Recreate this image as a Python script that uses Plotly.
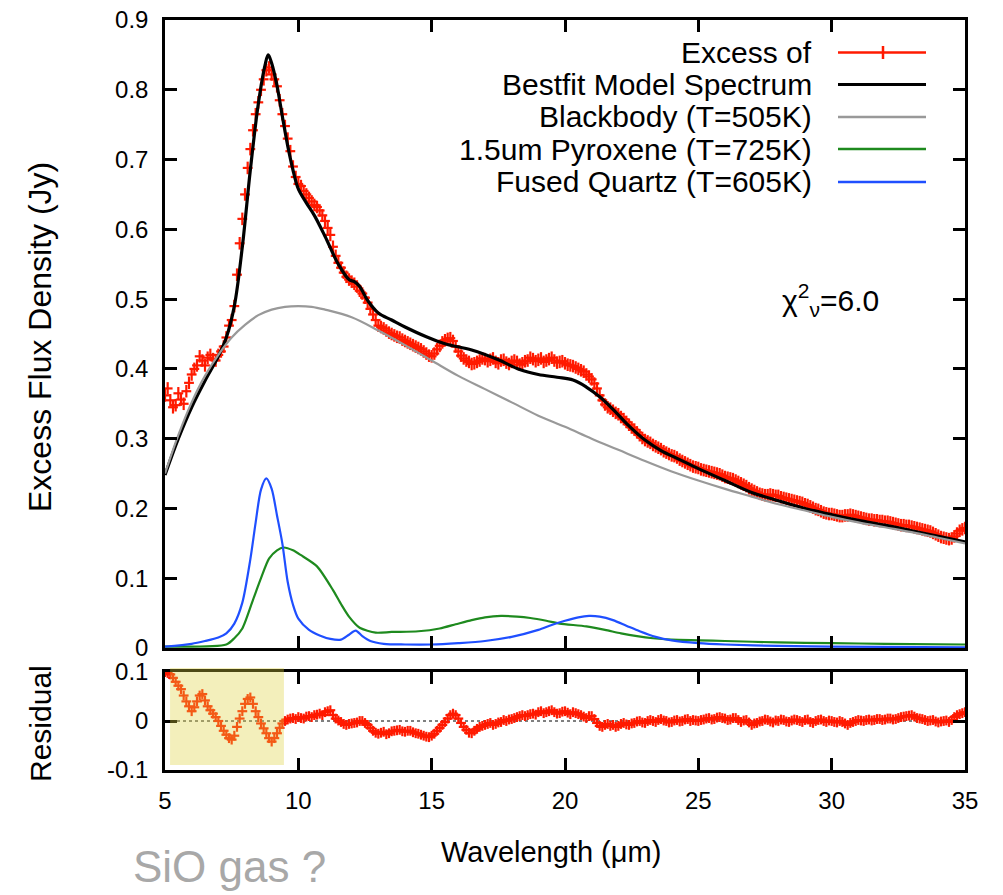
import plotly.graph_objects as go

# ---------------- data ----------------
lam_data = [
    5.0, 5.1, 5.2, 5.3, 5.4, 5.5, 5.6, 5.7, 5.8, 5.9,
    6.0, 6.1, 6.2, 6.3, 6.4, 6.5, 6.6, 6.7, 6.8, 6.9,
    7.0, 7.1, 7.2, 7.3, 7.4, 7.5, 7.6, 7.7, 7.8, 7.9,
    8.0, 8.1, 8.2, 8.3, 8.4, 8.5, 8.6, 8.7, 8.8, 8.9,
    9.0, 9.1, 9.2, 9.3, 9.4, 9.5, 9.6, 9.7, 9.8, 9.9,
    10.0, 10.1, 10.2, 10.3, 10.4, 10.5, 10.6, 10.7, 10.8, 10.9,
    11.0, 11.1, 11.2, 11.3, 11.4, 11.5, 11.6, 11.7, 11.8, 11.9,
    12.0, 12.1, 12.2, 12.3, 12.4, 12.5, 12.6, 12.7, 12.8, 12.9,
    13.0, 13.1, 13.2, 13.3, 13.4, 13.5, 13.6, 13.7, 13.8, 13.9,
    14.0, 14.1, 14.2, 14.3, 14.4, 14.5, 14.6, 14.7, 14.8, 14.9,
    15.0, 15.1, 15.2, 15.3, 15.4, 15.5, 15.6, 15.7, 15.8, 15.9,
    16.0, 16.1, 16.2, 16.3, 16.4, 16.5, 16.6, 16.7, 16.8, 16.9,
    17.0, 17.1, 17.2, 17.3, 17.4, 17.5, 17.6, 17.7, 17.8, 17.9,
    18.0, 18.1, 18.2, 18.3, 18.4, 18.5, 18.6, 18.7, 18.8, 18.9,
    19.0, 19.1, 19.2, 19.3, 19.4, 19.5, 19.6, 19.7, 19.8, 19.9,
    20.0, 20.1, 20.2, 20.3, 20.4, 20.5, 20.6, 20.7, 20.8, 20.9,
    21.0, 21.1, 21.2, 21.3, 21.4, 21.5, 21.6, 21.7, 21.8, 21.9,
    22.0, 22.1, 22.2, 22.3, 22.4, 22.5, 22.6, 22.7, 22.8, 22.9,
    23.0, 23.1, 23.2, 23.3, 23.4, 23.5, 23.6, 23.7, 23.8, 23.9,
    24.0, 24.1, 24.2, 24.3, 24.4, 24.5, 24.6, 24.7, 24.8, 24.9,
    25.0, 25.1, 25.2, 25.3, 25.4, 25.5, 25.6, 25.7, 25.8, 25.9,
    26.0, 26.1, 26.2, 26.3, 26.4, 26.5, 26.6, 26.7, 26.8, 26.9,
    27.0, 27.1, 27.2, 27.3, 27.4, 27.5, 27.6, 27.7, 27.8, 27.9,
    28.0, 28.1, 28.2, 28.3, 28.4, 28.5, 28.6, 28.7, 28.8, 28.9,
    29.0, 29.1, 29.2, 29.3, 29.4, 29.5, 29.6, 29.7, 29.8, 29.9,
    30.0, 30.1, 30.2, 30.3, 30.4, 30.5, 30.6, 30.7, 30.8, 30.9,
    31.0, 31.1, 31.2, 31.3, 31.4, 31.5, 31.6, 31.7, 31.8, 31.9,
    32.0, 32.1, 32.2, 32.3, 32.4, 32.5, 32.6, 32.7, 32.8, 32.9,
    33.0, 33.1, 33.2, 33.3, 33.4, 33.5, 33.6, 33.7, 33.8, 33.9,
    34.0, 34.1, 34.2, 34.3, 34.4, 34.5, 34.6, 34.7, 34.8, 34.9,
    35.0]

flux_data = [
    0.362, 0.372, 0.355, 0.345, 0.348, 0.365, 0.356, 0.350, 0.368, 0.380,
    0.392, 0.400, 0.405, 0.418, 0.412, 0.405, 0.416, 0.420, 0.414, 0.412,
    0.420, 0.425, 0.432, 0.445, 0.462, 0.470, 0.490, 0.535, 0.580, 0.615,
    0.650, 0.688, 0.715, 0.742, 0.765, 0.782, 0.800, 0.815, 0.828, 0.832,
    0.822, 0.815, 0.805, 0.785, 0.765, 0.748, 0.730, 0.712, 0.690, 0.675,
    0.665, 0.662, 0.655, 0.650, 0.645, 0.640, 0.635, 0.632, 0.627, 0.620,
    0.612, 0.602, 0.592, 0.575, 0.562, 0.552, 0.545, 0.538, 0.532, 0.528,
    0.525, 0.522, 0.518, 0.512, 0.508, 0.502, 0.495, 0.486, 0.478, 0.470,
    0.462, 0.460, 0.458, 0.455, 0.452, 0.450, 0.448, 0.446, 0.445, 0.442,
    0.440, 0.438, 0.436, 0.434, 0.432, 0.430, 0.428, 0.425, 0.422, 0.419,
    0.418, 0.422, 0.428, 0.433, 0.438, 0.441, 0.443, 0.444, 0.440, 0.432,
    0.425, 0.419, 0.415, 0.412, 0.410, 0.407, 0.408, 0.410, 0.412, 0.415,
    0.414, 0.411, 0.413, 0.415, 0.410, 0.408, 0.412, 0.413, 0.409, 0.407,
    0.410, 0.412, 0.410, 0.406, 0.408, 0.411, 0.412, 0.416, 0.414, 0.411,
    0.413, 0.415, 0.410, 0.412, 0.414, 0.416, 0.412, 0.409, 0.410, 0.411,
    0.408, 0.406, 0.405, 0.404, 0.402, 0.400, 0.398, 0.396, 0.392, 0.389,
    0.385, 0.379, 0.372, 0.362, 0.355, 0.349, 0.345, 0.343, 0.340, 0.337,
    0.335, 0.331, 0.328, 0.324, 0.320, 0.316, 0.313, 0.309, 0.305, 0.301,
    0.298, 0.296, 0.294, 0.291, 0.289, 0.287, 0.285, 0.282, 0.280, 0.278,
    0.276, 0.275, 0.273, 0.270, 0.268, 0.266, 0.264, 0.262, 0.260, 0.259,
    0.258, 0.256, 0.255, 0.254, 0.253, 0.252, 0.251, 0.250, 0.249, 0.247,
    0.245, 0.244, 0.243, 0.242, 0.240, 0.238, 0.236, 0.234, 0.232, 0.229,
    0.227, 0.225, 0.223, 0.221, 0.220, 0.219, 0.219, 0.220, 0.219, 0.218,
    0.218, 0.216, 0.215, 0.214, 0.213, 0.212, 0.211, 0.210, 0.209, 0.208,
    0.206, 0.205, 0.203, 0.201, 0.199, 0.198, 0.196, 0.194, 0.193, 0.192,
    0.192, 0.191, 0.190, 0.189, 0.189, 0.190, 0.190, 0.191, 0.190, 0.189,
    0.188, 0.187, 0.186, 0.185, 0.184, 0.184, 0.183, 0.183, 0.182, 0.182,
    0.181, 0.181, 0.180, 0.179, 0.178, 0.177, 0.176, 0.176, 0.175, 0.175,
    0.174, 0.173, 0.172, 0.171, 0.170, 0.169, 0.168, 0.167, 0.165, 0.163,
    0.161, 0.159, 0.158, 0.157, 0.156, 0.157, 0.160, 0.164, 0.168, 0.170,
    0.172]

resid_data = [
    0.100, 0.098, 0.095, 0.088, 0.080, 0.072, 0.065, 0.052, 0.040, 0.030,
    0.020, 0.028, 0.040, 0.052, 0.055, 0.042, 0.030, 0.022, 0.015, 0.008,
    0.000, -0.010, -0.020, -0.028, -0.035, -0.038, -0.030, -0.012, 0.005, 0.020,
    0.035, 0.045, 0.048, 0.035, 0.020, 0.008, -0.005, -0.015, -0.025, -0.035,
    -0.042, -0.035, -0.025, -0.014, -0.005, 0.000, 0.003, 0.005, 0.006, 0.004,
    0.008, 0.006, 0.005, 0.009, 0.010, 0.008, 0.012, 0.013, 0.015, 0.012,
    0.018, 0.020, 0.022, 0.012, 0.005, 0.001, -0.002, -0.006, -0.008, -0.006,
    -0.005, -0.004, -0.003, 0.000, 0.000, -0.004, -0.008, -0.014, -0.020, -0.024,
    -0.026, -0.024, -0.022, -0.027, -0.025, -0.021, -0.020, -0.019, -0.018, -0.021,
    -0.022, -0.020, -0.020, -0.023, -0.025, -0.026, -0.028, -0.030, -0.032, -0.033,
    -0.030, -0.026, -0.020, -0.014, -0.008, -0.002, 0.005, 0.012, 0.015, 0.012,
    0.005, -0.004, -0.012, -0.018, -0.024, -0.025, -0.020, -0.016, -0.012, -0.010,
    -0.008, -0.006, -0.004, -0.008, -0.006, -0.003, -0.002, 0.002, 0.000, 0.003,
    0.004, 0.006, 0.008, 0.010, 0.012, 0.010, 0.012, 0.014, 0.015, 0.013,
    0.018, 0.020, 0.016, 0.018, 0.020, 0.022, 0.018, 0.015, 0.016, 0.019,
    0.020, 0.017, 0.014, 0.018, 0.016, 0.014, 0.012, 0.009, 0.006, 0.010,
    0.010, 0.004, -0.004, -0.010, -0.012, -0.008, -0.006, -0.010, -0.008, -0.012,
    -0.010, -0.006, -0.004, -0.007, -0.008, -0.005, -0.004, -0.001, 0.000, -0.003,
    -0.004, 0.000, 0.002, 0.000, -0.002, 0.002, 0.004, 0.001, 0.000, -0.003,
    -0.002, 0.001, 0.002, -0.001, 0.000, 0.003, 0.004, 0.000, 0.002, 0.001,
    0.000, 0.002, 0.003, 0.005, 0.006, 0.003, 0.004, 0.007, 0.008, 0.006,
    0.005, 0.002, 0.003, 0.006, 0.006, 0.002, -0.002, 0.001, 0.002, -0.003,
    -0.008, -0.005, -0.004, -0.001, 0.000, 0.003, 0.002, -0.001, -0.003, 0.001,
    0.000, 0.003, 0.002, -0.001, -0.002, 0.001, 0.003, 0.002, 0.000, -0.002,
    0.002, 0.003, -0.002, -0.004, 0.000, 0.002, 0.003, 0.000, -0.002, 0.001,
    0.000, -0.002, -0.003, 0.000, -0.002, -0.005, -0.008, -0.004, -0.002, 0.000,
    0.002, 0.001, 0.000, 0.002, 0.003, 0.001, 0.002, 0.004, 0.004, 0.002,
    0.003, 0.005, 0.005, 0.003, 0.004, 0.006, 0.008, 0.009, 0.010, 0.011,
    0.012, 0.009, 0.006, 0.005, 0.004, 0.002, 0.000, 0.001, 0.002, -0.001,
    -0.003, -0.001, 0.000, 0.001, -0.002, 0.002, 0.008, 0.012, 0.014, 0.016,
    0.018]

lam_fit = [5, 5.5, 6, 6.5, 7, 7.3, 7.6, 7.9, 8.2, 8.5, 8.75, 8.87, 9.0, 9.2, 9.4, 9.6, 9.8,
           10.0, 10.3, 10.6, 11.0, 11.5, 11.9, 12.1, 12.3, 12.6, 13.0, 13.5, 14.0, 14.8,
           15.5, 16.5, 17.5, 18.3, 19.0, 19.7, 20.3, 20.8, 21.3, 21.8, 22.3, 23.0, 23.6,
           24.3, 25, 26, 27, 28, 29, 30, 31, 32, 33, 34, 35]
flux_fit = [0.248, 0.300, 0.345, 0.383, 0.418, 0.445, 0.490, 0.575, 0.685, 0.780, 0.835,
            0.850, 0.838, 0.806, 0.762, 0.720, 0.685, 0.658, 0.638, 0.620, 0.590, 0.550,
            0.528, 0.525, 0.518, 0.498, 0.480, 0.470, 0.460, 0.446, 0.436, 0.427, 0.413,
            0.399, 0.392, 0.388, 0.384, 0.374, 0.360, 0.342, 0.322, 0.298, 0.283, 0.270,
            0.257, 0.240, 0.223, 0.211, 0.200, 0.191, 0.183, 0.176, 0.168, 0.160, 0.152]

lam_bb = [5, 5.5, 6, 6.5, 7, 7.5, 8, 8.5, 9, 9.5, 10, 10.5, 11, 12, 13, 14, 15, 16, 17, 18,
          19, 20, 21, 22, 23, 24, 25, 26, 27, 28, 29, 30, 31, 32, 33, 34, 35]
flux_bb = [0.250, 0.305, 0.352, 0.390, 0.420, 0.445, 0.463, 0.477, 0.485, 0.489, 0.490,
           0.489, 0.485, 0.474, 0.455, 0.434, 0.412, 0.390, 0.371, 0.352, 0.333, 0.317,
           0.300, 0.284, 0.268, 0.253, 0.240, 0.228, 0.217, 0.206, 0.197, 0.188, 0.180,
           0.173, 0.166, 0.158, 0.150]

lam_pyr = [5, 7.3, 7.6, 7.9, 8.3, 8.6, 8.9, 9.2, 9.45, 9.8, 10.1, 10.7, 11.3, 11.6,
           11.9, 12.3, 12.9, 13.5, 14.5, 15.3, 15.9, 16.5, 17.0, 17.6, 18.2, 18.7, 19.3,
           19.8, 20.8, 21.5, 22.1, 22.7, 23.3, 24.0, 25.0, 26, 28, 30, 32, 35]
flux_pyr = [0.002, 0.005, 0.014, 0.028, 0.069, 0.100, 0.128, 0.140, 0.144, 0.140, 0.133,
            0.117, 0.083, 0.063, 0.045, 0.029, 0.022, 0.023, 0.024, 0.028, 0.034,
            0.040, 0.044, 0.046, 0.045, 0.043, 0.039, 0.035, 0.031, 0.026, 0.021, 0.017,
            0.014, 0.012, 0.011, 0.010, 0.008, 0.007, 0.006, 0.005]

lam_qtz = [5, 6, 6.5, 7, 7.3, 7.6, 7.9, 8.2, 8.4, 8.6, 8.8, 9.0, 9.2, 9.4, 9.6, 9.8, 10.0,
           10.4, 10.8, 11.2, 11.6, 11.9, 12.15, 12.4, 12.7, 13.2, 14, 15, 16, 17, 18, 19,
           19.5, 20, 20.5, 20.9, 21.3, 21.8, 22.3, 22.8, 23.4, 24, 25, 26, 28, 30, 35]
flux_qtz = [0.002, 0.006, 0.010, 0.015, 0.021, 0.035, 0.065, 0.127, 0.180, 0.227, 0.243,
            0.228, 0.190, 0.150, 0.095, 0.062, 0.042, 0.026, 0.018, 0.013, 0.012, 0.019,
            0.025, 0.017, 0.010, 0.006, 0.005, 0.005, 0.007, 0.010, 0.016, 0.026, 0.033,
            0.039, 0.044, 0.046, 0.045, 0.040, 0.032, 0.024, 0.016, 0.011, 0.007, 0.005,
            0.003, 0.002, 0.001]

legend_labels = ["Excess of", "Bestfit Model Spectrum", "Blackbody (T=505K)",
                 "1.5um Pyroxene (T=725K)", "Fused Quartz (T=605K)"]
main_ticks = [0, 0.1, 0.2, 0.3, 0.4, 0.5, 0.6, 0.7, 0.8, 0.9]
main_ticktext = ["0", "0.1", "0.2", "0.3", "0.4", "0.5", "0.6", "0.7", "0.8", "0.9"]
res_ticks = [-0.1, 0, 0.1]
res_ticktext = ["-0.1", "0", "0.1"]
x_ticks = [5, 10, 15, 20, 25, 30, 35]
x_ticktext = ["5", "10", "15", "20", "25", "30", "35"]

# ---------------- styles ----------------
RED = "#ff1a00"
BLACK = "#000000"
GRAY = "#999999"
GREEN = "#1e8a1e"
BLUE = "#1f4fff"
FONT = "Liberation Sans, Arial, Helvetica, sans-serif"

W, H = 1003, 895
L, R, T, B = 165, 965, 20, 770   # plot area pixels


def px(x):
    return (x - L) / (R - L)


def py(y):
    return (B - y) / (B - T)


fig = go.Figure()

fig.add_trace(go.Scatter(
    x=lam_data, y=flux_data, mode="markers", xaxis="x", yaxis="y",
    marker=dict(symbol="line-ew", size=7, line=dict(color=RED, width=2.2), color=RED),
    error_y=dict(type="constant", value=0.009, color=RED, thickness=2.2, width=0),
    showlegend=False))
fig.add_trace(go.Scatter(x=lam_fit, y=flux_fit, mode="lines", line=dict(color=BLACK, width=3.2, shape="spline"),
                         xaxis="x", yaxis="y", showlegend=False))
fig.add_trace(go.Scatter(x=lam_bb, y=flux_bb, mode="lines", line=dict(color=GRAY, width=2.2, shape="spline"),
                         xaxis="x", yaxis="y", showlegend=False))
fig.add_trace(go.Scatter(x=lam_pyr, y=flux_pyr, mode="lines", line=dict(color=GREEN, width=2.2, shape="spline", smoothing=0.7),
                         xaxis="x", yaxis="y", showlegend=False))
fig.add_trace(go.Scatter(x=lam_qtz, y=flux_qtz, mode="lines", line=dict(color=BLUE, width=2.2, shape="spline", smoothing=0.8),
                         xaxis="x", yaxis="y", showlegend=False))

fig.add_trace(go.Scatter(
    x=lam_data, y=resid_data, mode="markers", xaxis="x2", yaxis="y2",
    marker=dict(symbol="line-ew", size=7, line=dict(color=RED, width=2.2), color=RED),
    error_y=dict(type="constant", value=0.01, color=RED, thickness=2.2, width=0),
    showlegend=False))

axis_common = dict(showline=True, linecolor="black", linewidth=2.5, mirror="allticks",
                   ticks="inside", ticklen=12, tickwidth=2.5, tickcolor="black",
                   showgrid=False, zeroline=False, automargin=False,
                   tickfont=dict(family=FONT, size=24, color="black"))

main_bottom = py(648)
res_top = py(672)

fig.update_layout(
    template="none",
    width=W, height=H,
    margin=dict(l=L, r=W - R, t=T, b=H - B, autoexpand=False),
    paper_bgcolor="white", plot_bgcolor="white",
    font=dict(family=FONT, color="black"),
    showlegend=False,
    xaxis=dict(domain=[0, 1], range=[5, 35], tickvals=x_ticks, anchor="y", showticklabels=False, **axis_common),
    yaxis=dict(domain=[main_bottom, 1], range=[0, 0.9], tickvals=main_ticks, ticktext=main_ticktext,
               anchor="x", ticklabelstandoff=9, **axis_common),
    xaxis2=dict(domain=[0, 1], range=[5, 35], tickvals=x_ticks, ticktext=x_ticktext,
                anchor="y2", ticklabelstandoff=7, **axis_common),
    yaxis2=dict(domain=[0, res_top], range=[-0.1, 0.1], tickvals=res_ticks,
                ticktext=res_ticktext, anchor="x2", ticklabelstandoff=9, **axis_common),
)

shapes = []
# zero line in residual panel
shapes.append(dict(type="line", xref="x2 domain", yref="y2", x0=0, x1=1, y0=0, y1=0,
                   line=dict(color="black", width=1, dash="dot"), layer="below"))
# highlight box
shapes.append(dict(type="rect", xref="x2", yref="paper", x0=5.19, x1=9.46, y0=py(765), y1=py(668),
                   fillcolor="rgba(222,210,60,0.35)", line=dict(width=0), layer="above"))

# legend (manual, gnuplot style: text right, sample on right)
leg_y = [52.5, 84.5, 117, 149, 182]
leg_colors = [RED, BLACK, GRAY, GREEN, BLUE]
leg_widths = [2.5, 3.2, 2.5, 2.5, 2.5]
annotations = []
for lab, yy, c, w in zip(legend_labels, leg_y, leg_colors, leg_widths):
    annotations.append(dict(text=lab, xref="paper", yref="paper", x=px(814), y=py(yy),
                            xanchor="right", yanchor="middle", showarrow=False,
                            font=dict(family=FONT, size=30, color="black")))
    shapes.append(dict(type="line", xref="paper", yref="paper", x0=px(838), x1=px(926),
                       y0=py(yy), y1=py(yy), line=dict(color=c, width=w)))
shapes.append(dict(type="line", xref="paper", yref="paper", x0=px(883), x1=px(883),
                   y0=py(46), y1=py(59), line=dict(color=RED, width=2.5)))

# text annotations
annotations += [
    dict(text="Excess Flux Density (Jy)", xref="paper", yref="paper", x=px(40), y=py(337),
         textangle=-90, showarrow=False, xanchor="center", yanchor="middle",
         font=dict(family=FONT, size=32, color="black")),
    dict(text="Residual", xref="paper", yref="paper", x=px(40), y=py(724),
         textangle=-90, showarrow=False, xanchor="center", yanchor="middle",
         font=dict(family=FONT, size=30, color="black")),
    dict(text="Wavelength (μm)", xref="paper", yref="paper", x=px(551), y=py(852),
         showarrow=False, xanchor="center", yanchor="middle",
         font=dict(family=FONT, size=29, color="black")),
    dict(text="χ<sup>2</sup><sub>ν</sub>=6.0", xref="paper", yref="paper", x=px(830), y=py(300),
         showarrow=False, xanchor="center", yanchor="middle",
         font=dict(family=FONT, size=30, color="black")),
    dict(text="SiO gas ?", xref="paper", yref="paper", x=px(229), y=py(866),
         showarrow=False, xanchor="center", yanchor="middle",
         font=dict(family=FONT, size=44, color="#a8a8a8")),
]

fig.update_layout(shapes=shapes, annotations=annotations)

fig.write_html("out.html", config={"displayModeBar": False},
               post_script="document.body.style.margin='0px';document.body.style.padding='0px';")
